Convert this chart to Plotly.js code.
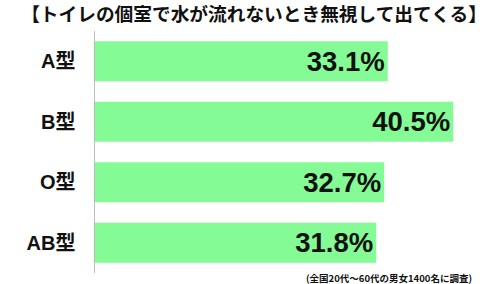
<!DOCTYPE html>
<html><head><meta charset="utf-8">
<script src="https://cdn.plot.ly/plotly-3.0.1.min.js"></script>
<style>html,body{margin:0;padding:0;background:#fff}#c{width:500px;height:284px}</style>
</head><body><div id="c"></div>
<script>
const categories = ["A型", "B型", "O型", "AB型"];
const values = [33.1, 40.5, 32.7, 31.8];
const valueLabels = ["33.1%", "40.5%", "32.7%", "31.8%"];
const titleText = "【トイレの個室で水が流れないとき無視して出てくる】";
const noteText = "(全国20代～60代の男女1400名に調査)";

const jp = "'Noto Sans CJK JP', sans-serif";
const num = "'Liberation Sans', 'Noto Sans CJK JP', sans-serif";

Plotly.newPlot("c", [{
  type: "bar",
  orientation: "h",
  y: categories,
  x: values,
  text: valueLabels,
  textposition: "inside",
  insidetextanchor: "end",
  textfont: {family: num, size: 27.5, color: "#111", weight: 700},
  marker: {color: "#84fb94"},
  hoverinfo: "none",
  cliponaxis: false
}], {
  width: 500, height: 284,
  margin: {l: 95, r: 7, t: 31, b: 11},
  paper_bgcolor: "#fff", plot_bgcolor: "#fff",
  bargap: 0.34,
  showlegend: false,
  title: {
    text: titleText,
    font: {family: jp, size: 18.7, color: "#111", weight: 700},
    x: 0.508, xanchor: "center", xref: "container",
    y: 0.949, yanchor: "middle", yref: "container"
  },
  xaxis: {range: [0, 45], visible: false, fixedrange: true},
  yaxis: {
    autorange: "reversed",
    showline: true, linecolor: "#bbbbbb", linewidth: 1.5,
    showgrid: false, zeroline: false,
    ticks: "outside", ticklen: 14, tickcolor: "rgba(0,0,0,0)",
    tickfont: {family: num, size: 20, color: "#111", weight: 700},
    fixedrange: true
  },
  annotations: [{
    text: noteText, showarrow: false,
    xref: "paper", yref: "paper",
    x: 0.952, xanchor: "right",
    y: -0.02, yanchor: "middle",
    font: {family: jp, size: 9.5, color: "#111", weight: 700}
  }]
}, {displayModeBar: false, staticPlot: true});
</script>
</body></html>
